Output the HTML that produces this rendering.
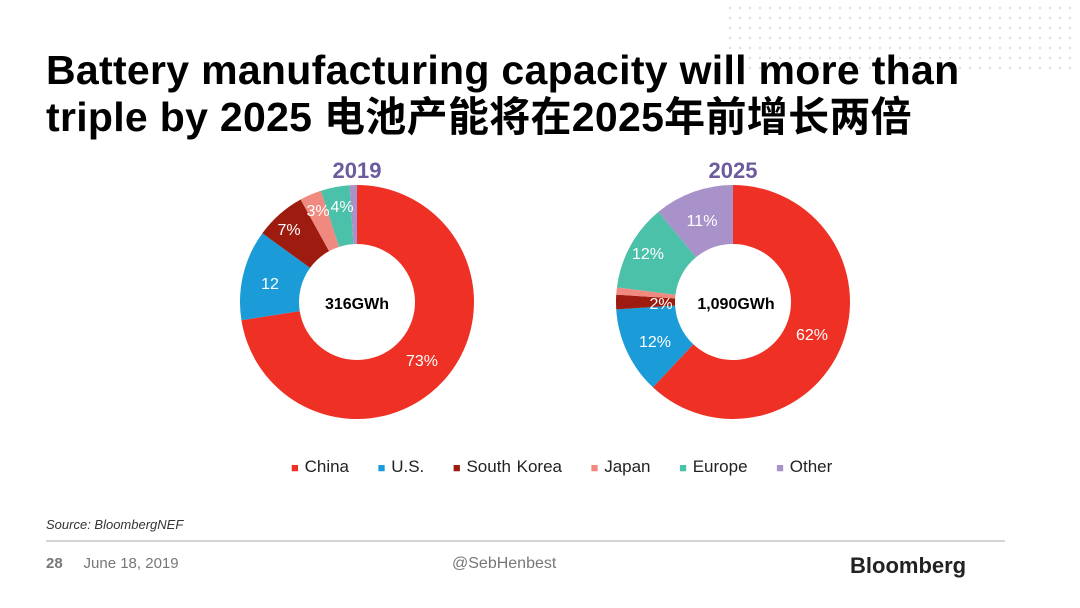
<!DOCTYPE html>
<html><head><meta charset="utf-8"><style>
body{margin:0;width:1080px;height:608px;background:#fff;overflow:hidden;position:relative;font-family:"Liberation Sans","Noto Sans CJK SC",sans-serif}
.t{position:absolute;left:46px;top:47px;font-size:41px;font-weight:bold;line-height:47px;color:#000;letter-spacing:0.3px;white-space:nowrap}
.a{position:absolute;white-space:nowrap}
</style></head><body>
<svg width="1080" height="608" style="position:absolute;left:0;top:0" id="s">
<g id="dots" fill="#ddd"></g>
<text x="357" y="178" text-anchor="middle" font-family="Liberation Sans" font-weight="bold" font-size="22" fill="#6E5B9E">2019</text>
<text x="733" y="178" text-anchor="middle" font-family="Liberation Sans" font-weight="bold" font-size="22" fill="#6E5B9E">2025</text>
<g id="d"></g>
<g font-family="Liberation Sans" font-size="16" fill="#fff" text-anchor="middle">
<text x="422" y="366">73%</text><text x="270" y="289">12</text><text x="289" y="235">7%</text><text x="318" y="216">3%</text><text x="342" y="212">4%</text>
<text x="812" y="340">62%</text><text x="655" y="347">12%</text><text x="661" y="309">2%</text><text x="648" y="259">12%</text><text x="702" y="226">11%</text>
</g>
<text x="357" y="309" text-anchor="middle" font-family="Liberation Sans" font-weight="bold" font-size="16">316GWh</text>
<text x="736" y="309" text-anchor="middle" font-family="Liberation Sans" font-weight="bold" font-size="16">1,090GWh</text>
<line x1="46" y1="541" x2="1005" y2="541" stroke="#aaa" stroke-width="1"/>
</svg>
<div class="t">Battery manufacturing capacity will more than<br>triple by 2025 电池产能将在2025年前增长两倍</div>
<div class="a" style="left:291px;top:457px;font-size:17px;color:#222;word-spacing:1px">
<span style="color:#EE3124;font-size:13px">■</span> China &nbsp;&nbsp;&nbsp;&nbsp;<span style="color:#1B9BD7;font-size:13px">■</span> U.S. &nbsp;&nbsp;&nbsp;&nbsp;<span style="color:#9E1B0F;font-size:13px">■</span> South Korea &nbsp;&nbsp;&nbsp;&nbsp;<span style="color:#F08A80;font-size:13px">■</span> Japan &nbsp;&nbsp;&nbsp;&nbsp;<span style="color:#4CC1AA;font-size:13px">■</span> Europe &nbsp;&nbsp;&nbsp;&nbsp;<span style="color:#A992C9;font-size:13px">■</span> Other</div>
<div class="a" style="left:46px;top:517px;font-size:13px;font-style:italic;color:#333">Source: BloombergNEF</div>
<div class="a" style="left:46px;top:555px;font-size:15px;color:#777"><b>28</b>&nbsp;&nbsp;&nbsp;&nbsp;&nbsp;June 18, 2019</div>
<div class="a" style="left:452px;top:555px;font-size:16px;color:#777">@SebHenbest</div>
<div class="a" style="left:850px;top:553px;font-size:22px;font-weight:bold;color:#222">Bloomberg</div>
<script>
var C=["#EE3124","#1B9BD7","#9E1B0F","#F08A80","#4CC1AA","#A992C9"];
function donut(cx,cy,R,r,v){var a=0,s="";for(var i=0;i<v.length;i++){var b=a+v[i]/100*2*Math.PI;
var p=function(t,rr){return (cx+rr*Math.sin(t)).toFixed(2)+","+(cy-rr*Math.cos(t)).toFixed(2)};
var l=(b-a)>Math.PI?1:0;
s+='<path fill="'+C[i]+'" d="M'+p(a,R)+' A'+R+','+R+' 0 '+l+' 1 '+p(b,R)+' L'+p(b,r)+' A'+r+','+r+' 0 '+l+' 0 '+p(a,r)+'Z"/>';a=b;}
return s;}
document.getElementById('d').innerHTML=donut(357,302,117,58,[72.5,12.5,7,3,4,1])+donut(733,302,117,58,[62,12,2,1,12,11]);
var g="";for(var y=8;y<70;y+=10)for(var x=730;x<1080;x+=10)g+='<circle cx="'+x+'" cy="'+y+'" r="1.2"/>';
document.getElementById('dots').innerHTML=g;
</script>
</body></html>
